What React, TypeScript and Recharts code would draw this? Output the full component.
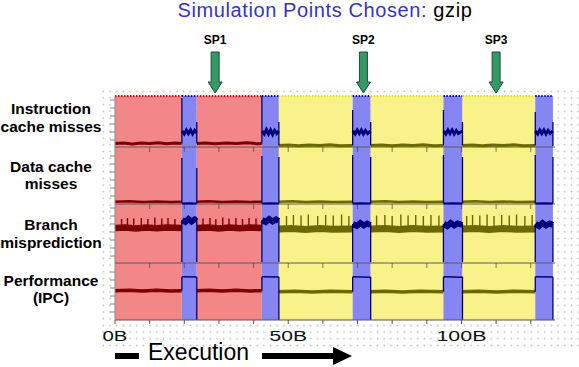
import {
    ComposedChart,
    Line,
    XAxis,
    YAxis,
    ReferenceArea,
    ReferenceLine,
    ReferenceDot,
} from 'recharts';

// Simulation points chosen for gzip: four per-interval metrics over execution
// (x in billions of instructions, y in stacked panel units, 1 unit ~ 1px).

const FONT = '"Liberation Sans", Arial, Helvetica, sans-serif';

// phase boundaries and the cluster each phase belongs to
const phaseEdges = [0, 19.3, 23.6, 42.4, 47.3, 68.6, 73.8, 94.8, 100.3, 121.3, 126.4];
const phaseKinds = ['red', 'blue', 'red', 'blue', 'yellow', 'blue', 'yellow', 'blue', 'yellow', 'blue'];

const xTicks = [0, 10, 20, 30, 40, 50, 60, 70, 80, 90, 100, 110, 120];
const xTickLabels: Record<number, string> = { 0: '0B', 50: '50B', 100: '100B' };

const panelDividers = [173, 116, 57];
const panelLabels = [
    { v: 197.1, lines: ['Instruction', 'cache misses'] },
    { v: 139.5, lines: ['Data  cache', 'misses'] },
    { v: 81, lines: ['Branch', 'misprediction'] },
    { v: 25.3, lines: ['Performance', '(IPC)'] },
];
const leftMinorTicks = [
    180, 188, 196, 204, 212, 220,
    124, 132, 140, 148, 156, 164,
    64, 72, 80, 88, 96, 104, 112,
    8, 16, 24, 32, 40, 48,
];

const simPoints = [
    { name: 'SP1', x: 28.9 },
    { name: 'SP2', x: 71.7 },
    { name: 'SP3', x: 110 },
];
const arrowTip = 227;

// signal levels [x, value]
const icache: [number, number][] = [
    [0, 176.5], [2.5, 177], [5, 176], [7.5, 177], [10, 176.5], [12.5, 177.2], [15, 176.2], [17.5, 177], [19.25, 176.5],
    [19.35, 189], [20, 186], [20.6, 190], [21.2, 186.5], [21.8, 190], [22.4, 186], [23, 189.5], [23.55, 187],
    [23.65, 176.5], [26, 177], [29, 176.2], [32, 177], [35, 176.5], [38, 177.2], [41, 176.3], [42.35, 176.5],
    [42.45, 189], [43.1, 186], [43.7, 190.5], [44.3, 186], [44.9, 190], [45.5, 185.5], [46.1, 189.5], [46.7, 186.5], [47.25, 189],
    [47.35, 174.5], [50, 175], [53, 174.2], [56, 175], [59, 174.5], [62, 175.2], [65, 174.3], [68.55, 174.5],
    [68.65, 189], [69.3, 186], [69.9, 190], [70.5, 186.5], [71.1, 190], [71.7, 186], [72.3, 189.5], [72.9, 186.5], [73.75, 189],
    [73.85, 174.5], [77, 175], [80, 174.2], [83, 175], [86, 174.5], [89, 175.2], [92, 174.3], [94.75, 174.5],
    [94.85, 189], [95.5, 186], [96.1, 190], [96.7, 186.5], [97.3, 190], [97.9, 186], [98.5, 189.5], [99.1, 186.5], [100.25, 189],
    [100.35, 174.5], [103, 175], [106, 174.2], [109, 175], [112, 174.5], [115, 175.2], [118, 174.3], [121.25, 174.5],
    [121.35, 189], [122, 186], [122.6, 190], [123.2, 186.5], [123.8, 190], [124.4, 186], [125, 189.5], [125.6, 186.5], [126.35, 189],
];

const dcache: [number, number][] = [
    [0, 118.3], [4, 118.8], [8, 118], [12, 118.6], [16, 118.1], [19.25, 118.3],
    [19.35, 116.5], [21.5, 116.8], [23.55, 116.5],
    [23.65, 118.3], [27, 118.8], [31, 118], [35, 118.6], [39, 118.1], [42.35, 118.3],
    [42.45, 116.5], [45, 116.8], [47.25, 116.5],
    [47.35, 118.3], [51, 118.8], [55, 118], [59, 118.6], [63, 118.1], [68.55, 118.3],
    [68.65, 116.5], [71, 116.8], [73.75, 116.5],
    [73.85, 118.3], [78, 118.8], [82, 118], [86, 118.6], [90, 118.1], [94.75, 118.3],
    [94.85, 116.5], [97.5, 116.8], [100.25, 116.5],
    [100.35, 118.3], [104, 118.8], [108, 118], [112, 118.6], [116, 118.1], [121.25, 118.3],
    [121.35, 116.5], [124, 116.8], [126.35, 116.5],
];

const branch: [number, number][] = [
    [0, 92], [3, 92.6], [6, 91.5], [9, 92.5], [12, 91.7], [15, 92.5], [19.25, 92],
    [19.35, 100], [20.3, 98], [21.2, 101], [22.1, 98.5], [23, 100.5], [23.55, 99],
    [23.65, 92], [27, 92.5], [30, 91.5], [33, 92.5], [36, 91.7], [39, 92.5], [42.35, 92],
    [42.45, 100], [43.5, 98], [44.5, 101], [45.5, 98.5], [46.5, 100.5], [47.25, 99],
    [47.35, 91], [51, 91.6], [55, 90.5], [59, 91.5], [63, 90.7], [68.55, 91],
    [68.65, 96], [69.8, 94], [70.8, 97], [71.8, 94.5], [72.8, 96.5], [73.75, 95],
    [73.85, 91], [78, 91.6], [82, 90.5], [86, 91.5], [90, 90.7], [94.75, 91],
    [94.85, 96], [95.9, 94], [96.9, 97], [97.9, 94.5], [98.9, 96.5], [100.25, 95],
    [100.35, 91], [104, 91.6], [108, 90.5], [112, 91.5], [116, 90.7], [121.25, 91],
    [121.35, 96], [122.4, 94], [123.4, 97], [124.4, 94.5], [125.4, 96.5], [126.35, 95],
];

const perf: [number, number][] = [
    [0, 29.3], [4, 29.8], [8, 29], [12, 29.7], [16, 29.1], [19.25, 29.3],
    [19.35, 43.3], [23.55, 43],
    [23.65, 29.3], [27, 29.8], [31, 29], [35, 29.7], [39, 29.1], [42.35, 29.3],
    [42.45, 43.3], [47.25, 43],
    [47.35, 28.3], [52, 28.8], [57, 28], [62, 28.7], [68.55, 28.3],
    [68.65, 43.3], [73.75, 42.8],
    [73.85, 28.3], [78, 28.8], [83, 28], [88, 28.7], [94.75, 28.3],
    [94.85, 43.3], [100.25, 42.8],
    [100.35, 28.3], [105, 28.8], [110, 28], [115, 28.7], [121.25, 28.3],
    [121.35, 43.3], [126.35, 43],
];

// vertical jumps at the phase changes [x, low, high]
const icacheJumps: [number, number, number][] = [
    [19.3, 176.5, 222], [23.6, 176.5, 198], [42.4, 176.5, 224], [47.3, 174.5, 198], [68.6, 174.5, 210],
    [73.8, 174.5, 198], [94.8, 174.5, 210], [100.3, 174.5, 198], [121.3, 174.5, 208], [126.4, 174, 198],
];
const dcacheJumps: [number, number, number][] = [
    [19.3, 116.5, 162], [23.6, 116.5, 152], [42.4, 116.5, 164], [47.3, 116.5, 163], [68.6, 116.5, 165],
    [73.8, 116.5, 163], [94.8, 116.5, 165], [100.3, 116.5, 163], [121.3, 116.5, 165], [126.4, 116.5, 163],
];
const branchJumps: [number, number, number][] = [
    [19.3, 58, 100], [23.6, 58, 100], [42.4, 58, 100], [47.3, 58, 100], [68.6, 58, 96],
    [73.8, 58, 96], [94.8, 58, 96], [100.3, 58, 96], [121.3, 58, 96], [126.4, 58, 96],
];
const perfJumps: [number, number, number][] = [
    [19.3, 29.3, 43.3], [23.6, 0, 43.3], [42.4, 29.3, 43.3], [47.3, 0, 43.3], [68.6, 28.3, 43.3],
    [73.8, 0, 43.3], [94.8, 28.3, 43.3], [100.3, 0, 43.3], [121.3, 28.3, 43.3], [126.4, 0, 43.3],
];

// periodic misprediction spikes [x, peak]
const redSpikes: [number, number][] = [
    [1.9, 101], [3.6, 102], [5.4, 101.5], [7.6, 102], [9.5, 101], [11.5, 102.5], [13.5, 101.5], [15.3, 102], [17.3, 101],
    [25.4, 101.5], [27.4, 102], [29.1, 101], [31.1, 102.5], [32.9, 101.5], [34.9, 102], [36.8, 101], [38.7, 102], [40.7, 101.5],
];
const yellowSpikes: [number, number][] = [
    [49.5, 104], [51.5, 105], [53.7, 104.5], [55.8, 105.5], [58.5, 104], [60.8, 105], [63, 104.5], [65.4, 105.5], [67.5, 104],
    [75.5, 104.5], [77.9, 105], [80, 104], [82.5, 105.5], [84.6, 104.5], [86.8, 105], [89, 104], [91.2, 105], [93.5, 104.5],
    [101.5, 104], [103.2, 105], [105.3, 104.5], [107.4, 105.5], [109.4, 104], [111.6, 105], [113.8, 104.5], [115.9, 105.5],
    [118.3, 104], [120.4, 105],
];

const bandFill: Record<string, string> = { red: '#f38686', blue: '#8686f3', yellow: '#f9f28a' };
const bandEdge: Record<string, string> = { red: '#ff0000', blue: '#0000ff', yellow: '#f0e000' };
const lineColor: Record<string, string> = { red: '#7d0000', blue: '#00007d', yellow: '#6b6a00' };

const signals = [
    { key: 'ic', points: icache, jumps: icacheJumps, width: { red: 3, yellow: 3, blue: 3 } as Record<string, number> },
    { key: 'dc', points: dcache, jumps: dcacheJumps, width: { red: 2.5, yellow: 2.5, blue: 2 } as Record<string, number> },
    { key: 'br', points: branch, jumps: branchJumps, width: { red: 6.5, yellow: 7, blue: 6 } as Record<string, number> },
    { key: 'pf', points: perf, jumps: perfJumps, width: { red: 3.5, yellow: 3.5, blue: 1.5 } as Record<string, number> },
];

function segmentsOf(points: [number, number][]) {
    return phaseKinds.map((kind, i) => ({
        kind,
        data: points
            .filter(([x]) => x >= phaseEdges[i] && x <= phaseEdges[i + 1])
            .map(([x, v]) => ({ x, v })),
    }));
}

function PanelTick(props: any) {
    const { x, y, payload } = props;
    const label = panelLabels.find((p) => p.v === payload.value);
    if (label) {
        return (
            <text
                x={x - 64}
                y={y}
                textAnchor="middle"
                fontFamily={FONT}
                fontWeight="bold"
                fontSize={15.5}
                fill="#000"
            >
                <tspan x={x - 64} dy={-8.75}>{label.lines[0]}</tspan>
                <tspan x={x - 64} dy={17.5}>{label.lines[1]}</tspan>
            </text>
        );
    }
    return <line x1={x - 5} x2={x} y1={y} y2={y} stroke="#8a8a8a" />;
}

function BTick(props: any) {
    const { x, y, payload } = props;
    const label = xTickLabels[payload.value];
    if (!label) return <g />;
    return (
        <text
            x={x}
            y={y + 15}
            textAnchor="middle"
            fontFamily={FONT}
            fontSize={15}
            textLength={label.length * 12.5}
            lengthAdjust="spacingAndGlyphs"
            fill="#111"
        >
            {label}
        </text>
    );
}

function SimArrow(props: any) {
    const { cx, cy, name } = props;
    return (
        <g>
            <text
                x={cx}
                y={cy - 49}
                textAnchor="middle"
                fontFamily={FONT}
                fontWeight="bold"
                fontSize={12}
                fill="#000"
            >
                {name}
            </text>
            <polygon
                points={`${cx - 4},${cy - 41} ${cx + 4},${cy - 41} ${cx + 4},${cy - 11} ${cx + 7},${cy - 11} ${cx},${cy} ${cx - 7},${cy - 11} ${cx - 4},${cy - 11}`}
                fill="#339966"
                stroke="#1d4d33"
                strokeWidth={1}
            />
        </g>
    );
}

export default function App() {
    const yTicks = [...leftMinorTicks, ...panelLabels.map((p) => p.v)];

    return (
        <div
            style={{
                position: 'absolute',
                left: 0,
                top: 0,
                width: 579,
                height: 367,
                background: '#fff',
                overflow: 'hidden',
            }}
        >
            {/* dotted page grid behind the plot */}
            <div
                style={{
                    position: 'absolute',
                    left: 100,
                    top: 88,
                    width: 479,
                    height: 262,
                    backgroundImage: 'radial-gradient(circle, #c2c2c2 0.8px, transparent 1.1px)',
                    backgroundSize: '6.7px 6.7px',
                }}
            />
            <div style={{ position: 'absolute', left: 0, top: 0 }}>
                <ComposedChart
                    width={579}
                    height={367}
                    margin={{ top: 96, right: 24, bottom: 0, left: 0 }}
                >
                    <XAxis
                        type="number"
                        dataKey="x"
                        domain={[0, 127]}
                        ticks={xTicks}
                        interval={0}
                        height={47}
                        tickSize={4}
                        stroke="#555"
                        tick={BTick}
                    />
                    <YAxis
                        type="number"
                        domain={[0, 224]}
                        ticks={yTicks}
                        interval={0}
                        width={115}
                        tickSize={0}
                        tickMargin={0}
                        tickLine={false}
                        stroke="#8a8a8a"
                        tick={PanelTick}
                    />

                    {/* cluster colour bands */}
                    {phaseKinds.map((kind, i) => (
                        <ReferenceArea
                            key={`band${i}`}
                            x1={phaseEdges[i]}
                            x2={phaseEdges[i + 1]}
                            y1={0}
                            y2={224}
                            fill={bandFill[kind]}
                            fillOpacity={1}
                            stroke="none"
                        />
                    ))}
                    {phaseKinds.map((kind, i) => (
                        <ReferenceLine
                            key={`top${i}`}
                            segment={[
                                { x: phaseEdges[i], y: 224 },
                                { x: phaseEdges[i + 1], y: 224 },
                            ]}
                            stroke={bandEdge[kind]}
                            strokeWidth={2}
                            strokeDasharray="1.5 1.5"
                            ifOverflow="visible"
                        />
                    ))}

                    {/* panel separators with their own ticks */}
                    {panelDividers.map((d) => (
                        <ReferenceLine key={`div${d}`} y={d} stroke="#5a5a5a" strokeWidth={1} />
                    ))}
                    {panelDividers.flatMap((d) =>
                        xTicks.slice(1).map((t) => (
                            <ReferenceLine
                                key={`dt${d}-${t}`}
                                segment={[
                                    { x: t, y: d },
                                    { x: t, y: d - 5 },
                                ]}
                                stroke="#444"
                                strokeOpacity={0.7}
                            />
                        )),
                    )}

                    {/* signals, coloured by phase */}
                    {signals.flatMap((s) =>
                        segmentsOf(s.points).map((seg, i) => (
                            <Line
                                key={`${s.key}${i}`}
                                data={seg.data}
                                dataKey="v"
                                type="linear"
                                stroke={lineColor[seg.kind]}
                                strokeWidth={s.width[seg.kind]}
                                dot={false}
                                activeDot={false}
                                isAnimationActive={false}
                            />
                        )),
                    )}
                    {signals.flatMap((s) =>
                        s.jumps.map(([x, lo, hi]) => (
                            <ReferenceLine
                                key={`j${s.key}${x}`}
                                segment={[
                                    { x, y: lo },
                                    { x, y: hi },
                                ]}
                                stroke="#000070"
                                strokeWidth={1.3}
                            />
                        )),
                    )}
                    {redSpikes.map(([x, top]) => (
                        <ReferenceLine
                            key={`rs${x}`}
                            segment={[
                                { x, y: 92 },
                                { x, y: top },
                            ]}
                            stroke={lineColor.red}
                            strokeWidth={1.4}
                        />
                    ))}
                    {yellowSpikes.map(([x, top]) => (
                        <ReferenceLine
                            key={`ys${x}`}
                            segment={[
                                { x, y: 91 },
                                { x, y: top },
                            ]}
                            stroke={lineColor.yellow}
                            strokeWidth={1.4}
                        />
                    ))}

                    {/* chosen simulation points */}
                    {simPoints.map((p) => (
                        <ReferenceDot
                            key={p.name}
                            x={p.x}
                            y={arrowTip}
                            ifOverflow="visible"
                            shape={(props: any) => <SimArrow {...props} name={p.name} />}
                        />
                    ))}
                </ComposedChart>
            </div>
            <svg
                width={579}
                height={367}
                style={{ position: 'absolute', left: 0, top: 0, pointerEvents: 'none' }}
            >
                <text
                    x={325}
                    y={17}
                    textAnchor="middle"
                    fontFamily={FONT}
                    fontSize={20}
                    letterSpacing={0.6}
                >
                    <tspan fill="#3333cc">Simulation Points Chosen: </tspan>
                    <tspan fill="#000">gzip</tspan>
                </text>
                <rect x={115} y={353} width={24} height={6} fill="#000" />
                <text x={148} y={360} fontFamily={FONT} fontSize={23} fill="#000">
                    Execution
                </text>
                <rect x={262} y={353} width={72} height={6} fill="#000" />
                <polygon points="333,347 352,356 333,365" fill="#000" />
            </svg>
        </div>
    );
}
